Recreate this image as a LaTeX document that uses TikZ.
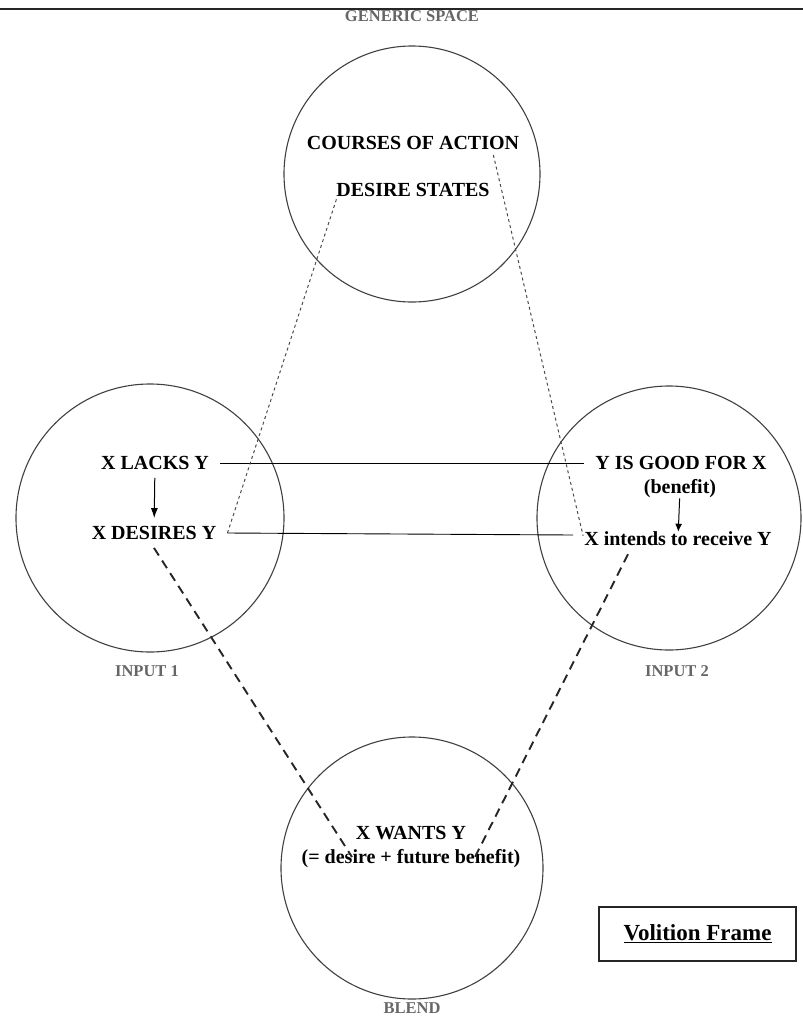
\documentclass[tikz,border=0pt]{standalone}
\usepackage{fontspec}
\setmainfont{Liberation Serif}
\usetikzlibrary{arrows.meta}

\newcommand{\itemfont}{\bfseries\fontsize{20}{24}\selectfont}
\newcommand{\labelfont}{\bfseries\fontsize{16.5}{19}\selectfont}

\tikzstyle{mentalspace} = [draw=black!75, circle, line width=1.1pt, inner sep=0pt]
\tikzstyle{item} = [font=\itemfont, inner xsep=11pt, inner ysep=2pt, align=center]
\tikzstyle{spacelabel} = [font=\labelfont, text=black!60]
\tikzstyle{link} = [line width=.9pt]
\tikzstyle{crossmap} = [black!70, line width=1pt, dash pattern=on 3pt off 3pt]
\tikzstyle{blendmap} = [black!85, line width=1.9pt, dash pattern=on 9pt off 6pt]

\begin{document}
\begin{tikzpicture}[x=1pt, y=-1pt]
  \useasboundingbox (0,0) rectangle (803,1018);
  \draw [black!85, line width=2pt] (0,9) -- (803,9);

  % the four spaces
  \node (generic) [mentalspace, minimum size=256pt] at (412,174) {};
  \node (input1) [mentalspace, minimum size=268pt] at (150,518) {};
  \node (input2) [mentalspace, minimum size=264pt] at (669,518) {};
  \node (blend) [mentalspace, minimum size=262pt] at (412,868) {};

  \node (genericlabel) [spacelabel, above of=generic, node distance=158pt] {GENERIC SPACE};
  \node (input1label) [spacelabel, below of=input1, node distance=153pt, xshift=-3pt] {INPUT 1};
  \node (input2label) [spacelabel, below of=input2, node distance=153pt, xshift=8pt] {INPUT 2};
  \node (blendlabel) [spacelabel, below of=blend, node distance=140pt] {BLEND};

  % contents
  \node (courses) [item] at (413,143) {COURSES OF ACTION};
  \node (desire) [item] at (413,190) {DESIRE STATES};
  \node (lacks) [item] at (155,463) {X LACKS Y};
  \node (desires) [item] at (154,533) {X DESIRES Y};
  \node (good) [item] at (681,463) {Y IS GOOD FOR X};
  \node (benefit) [item] at (680,489) {(benefit)};
  \node (intends) [item] at (678,539) {X intends to receive Y};
  \node (wants) [item] at (411,847) {X WANTS Y\\(= desire + future benefit)};

  \node (frame) [draw=black!85, line width=1.1pt, minimum width=197pt, minimum height=54pt,
    font=\bfseries\fontsize{23}{26}\selectfont] at (697.5,934) {\underline{Volition Frame}};

  \draw [-{Latex[length=10pt,width=7pt]}, line width=1pt, shorten <=6pt, shorten >=6pt] (lacks) -- (desires);
  \draw [-{Latex[length=8pt,width=7pt]}, line width=1pt, shorten <=-2pt, shorten >=-2pt] (benefit) -- (intends);

  \draw [link] (lacks.east) -- (good.west);
  \draw [link] (desires.east) -- ([yshift=4pt]intends.west);

  \draw [crossmap] (desires.east) -- ([xshift=12pt, yshift=2pt]desire.south west);
  \draw [crossmap] ([xshift=-37pt, yshift=-3pt]courses.south east) -- ([xshift=10pt, yshift=-6pt]intends.north west);

  \draw [blendmap] ([yshift=-6pt]desires.south) -- ([shift={(-59,10)}]wants.center);
  \draw [blendmap] ([xshift=-50pt, yshift=-6pt]intends.south) -- ([shift={(64,10)}]wants.center);
\end{tikzpicture}
\end{document}
